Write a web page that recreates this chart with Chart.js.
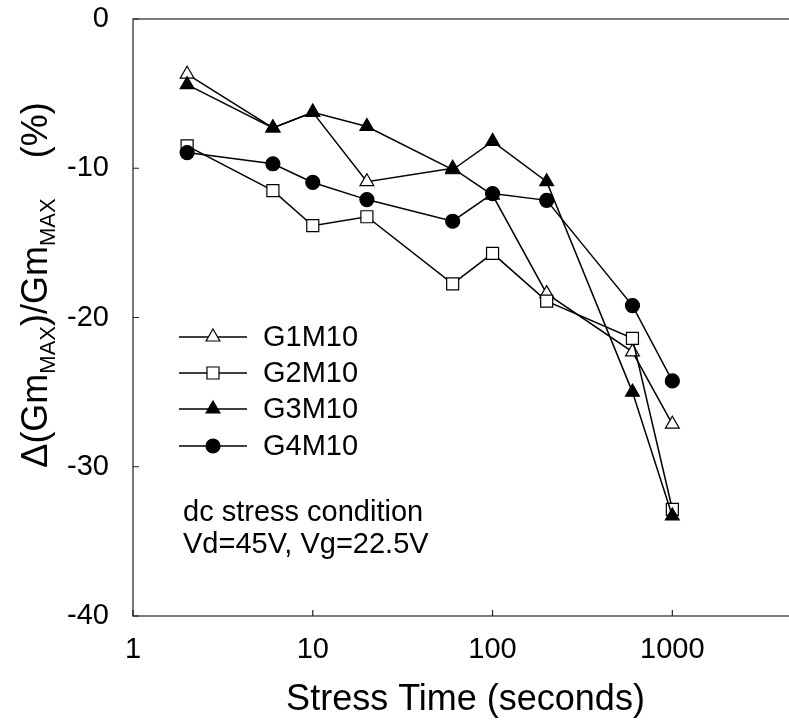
<!DOCTYPE html>
<html>
<head>
<meta charset="utf-8">
<title>Gm degradation vs stress time</title>
<script src="https://cdn.jsdelivr.net/npm/chart.js@4.4.0/dist/chart.umd.min.js"></script>
<style>
  html, body { margin: 0; padding: 0; background: #fff; overflow: hidden; }
  #wrap { position: relative; width: 810px; height: 726px; }
</style>
</head>
<body>
<div id="wrap"><canvas id="myChart"></canvas></div>
<script>
// stress times (s) and Gm change (%) for each device
const stressTimes = [2, 6, 10, 20, 60, 100, 200, 600, 1000];
const g1m10 = [-3.7, -7.3, -6.25, -10.9, -10.0, -11.8, -18.4, -22.3, -27.15];
const g2m10 = [-8.5, -11.5, -13.85, -13.25, -17.75, -15.7, -18.9, -21.4, -32.85];
const g3m10 = [-4.4, -7.3, -6.25, -7.2, -10.1, -8.2, -10.9, -25.0, -33.3];
const g4m10 = [-8.95, -9.7, -10.95, -12.1, -13.55, -11.7, -12.15, -19.2, -24.25];

const seriesNames = ['G1M10', 'G2M10', 'G3M10', 'G4M10'];
const xTicks = [1, 10, 100, 1000];
const yTicks = [0, -10, -20, -30, -40];
const noteLines = ['dc stress condition', 'Vd=45V, Vg=22.5V'];

const FONT = 'Arial, "Liberation Sans", sans-serif';

const markers = [
    { style: 'triangle', radius: 8, fill: '#fff' },
    { style: 'rect', radius: 8.5, fill: '#fff' },
    { style: 'triangle', radius: 8, fill: '#000' },
    { style: 'circle', radius: 7, fill: '#000' }
];

function makeDataset(i, values) {
    const m = markers[i];
    return {
        label: seriesNames[i],
        data: stressTimes.map((t, k) => ({ x: t, y: values[k] })),
        borderColor: '#000',
        borderWidth: 1.5,
        pointStyle: m.style,
        pointRadius: m.radius,
        pointBackgroundColor: m.fill,
        pointBorderColor: '#000',
        pointBorderWidth: 1.2,
        tension: 0,
        order: 4 - i   // later series drawn on top
    };
}

// frame, inward ticks, axis titles, legend and note text
const decorations = {
    id: 'decorations',
    afterDraw(chart) {
        const ctx = chart.ctx;
        const a = chart.chartArea;
        const xs = chart.scales.x;
        const ys = chart.scales.y;

        ctx.save();
        ctx.strokeStyle = '#222';
        ctx.lineWidth = 1.2;
        ctx.strokeRect(a.left, a.top, a.right - a.left, a.bottom - a.top);

        ctx.beginPath();
        xTicks.forEach(v => {
            const px = xs.getPixelForValue(v);
            ctx.moveTo(px, a.bottom);
            ctx.lineTo(px, a.bottom - 6);
        });
        yTicks.forEach(v => {
            const py = ys.getPixelForValue(v);
            ctx.moveTo(a.left, py);
            ctx.lineTo(a.left + 6, py);
        });
        ctx.stroke();

        // x title
        ctx.fillStyle = '#000';
        ctx.font = '36px ' + FONT;
        ctx.textAlign = 'center';
        ctx.textBaseline = 'middle';
        ctx.fillText('Stress Time (seconds)', (a.left + a.right) / 2, 700);

        // y title with subscripts, extra gap before the unit
        const parts = [
            { t: '\u0394(Gm', sub: false },
            { t: 'MAX', sub: true },
            { t: ')/Gm', sub: false },
            { t: 'MAX', sub: true, gap: 40 },
            { t: '(%)', sub: false }
        ];
        const mainFont = '36px ' + FONT;
        const subFont = '22px ' + FONT;
        let total = 0;
        parts.forEach(p => {
            ctx.font = p.sub ? subFont : mainFont;
            p.w = ctx.measureText(p.t).width + (p.gap || 0);
            total += p.w;
        });
        ctx.save();
        ctx.translate(47, 285);
        ctx.rotate(-Math.PI / 2);
        ctx.textAlign = 'left';
        ctx.textBaseline = 'alphabetic';
        let cx = -total / 2;
        parts.forEach(p => {
            ctx.font = p.sub ? subFont : mainFont;
            ctx.fillText(p.t, cx, p.sub ? 8 : 0);
            cx += p.w;
        });
        ctx.restore();

        // legend
        const rowY = [337, 373, 409, 446];
        chart.data.datasets.forEach((ds, i) => {
            const y = rowY[i];
            ctx.strokeStyle = '#000';
            ctx.lineWidth = 1.5;
            ctx.beginPath();
            ctx.moveTo(179, y);
            ctx.lineTo(247, y);
            ctx.stroke();
            ctx.fillStyle = ds.pointBackgroundColor;
            ctx.lineWidth = 1.2;
            Chart.helpers.drawPoint(ctx, {
                pointStyle: ds.pointStyle,
                radius: ds.pointRadius,
                borderWidth: 1.2,
                rotation: 0
            }, 213, y);
            ctx.fillStyle = '#000';
            ctx.font = '29px ' + FONT;
            ctx.textAlign = 'left';
            ctx.textBaseline = 'middle';
            ctx.fillText(ds.label, 263, y + 1);
        });

        // stress condition note
        ctx.font = '29px ' + FONT;
        ctx.fillStyle = '#000';
        ctx.textAlign = 'left';
        ctx.textBaseline = 'middle';
        noteLines.forEach((line, k) => {
            ctx.fillText(line, 183, 513 + k * 32);
        });
        ctx.restore();
    }
};

const ctx = document.getElementById('myChart').getContext('2d');
const myChart = new Chart(ctx, {
    type: 'line',
    data: {
        datasets: [
            makeDataset(0, g1m10),
            makeDataset(1, g2m10),
            makeDataset(2, g3m10),
            makeDataset(3, g4m10)
        ]
    },
    options: {
        responsive: true,
        maintainAspectRatio: false,
        animation: false,
        layout: { autoPadding: false, padding: { top: 19, right: 12, left: 0, bottom: 0 } },
        plugins: {
            legend: { display: false },
            tooltip: { enabled: false }
        },
        scales: {
            x: {
                type: 'logarithmic',
                min: 1,
                max: 5000,
                grid: { display: false },
                border: { display: false },
                afterBuildTicks: scale => {
                    scale.ticks = xTicks.map(v => ({ value: v }));
                },
                afterFit: scale => {
                    scale.height = 110;
                    scale.paddingLeft = 0;
                    scale.paddingRight = 0;
                },
                ticks: {
                    color: '#000',
                    font: { family: FONT, size: 29 },
                    padding: 9,
                    maxRotation: 0,
                    autoSkip: false,
                    callback: v => String(v)
                }
            },
            y: {
                type: 'linear',
                min: -40,
                max: 0,
                grid: { display: false },
                border: { display: false },
                afterBuildTicks: scale => {
                    scale.ticks = yTicks.map(v => ({ value: v }));
                },
                afterFit: scale => {
                    scale.width = 133;
                    scale.paddingTop = 0;
                    scale.paddingBottom = 0;
                },
                ticks: {
                    color: '#000',
                    font: { family: FONT, size: 29 },
                    padding: 16,
                    callback: v => String(v)
                }
            }
        }
    },
    plugins: [decorations]
});
</script>
</body>
</html>
